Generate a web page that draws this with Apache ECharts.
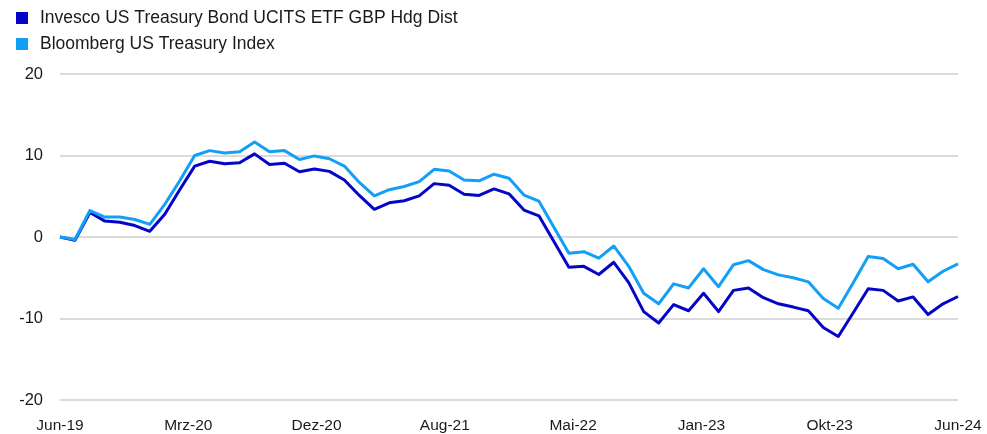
<!DOCTYPE html>
<html>
<head>
<meta charset="utf-8">
<title>Invesco US Treasury Bond UCITS ETF GBP Hdg Dist</title>
<script src="https://cdn.jsdelivr.net/npm/echarts@6/dist/echarts.min.js"></script>
<style>
  html, body { margin: 0; padding: 0; background: #ffffff; }
  #chart { width: 987px; height: 434px; }
</style>
</head>
<body>
<div id="chart"></div>
<script>
// Cumulative performance in %, monthly from Jun-19 to Jun-24
const seriesNames = ['Invesco US Treasury Bond UCITS ETF GBP Hdg Dist', 'Bloomberg US Treasury Index'];

const invescoValues = [
  0.0, -0.4, 3.0, 1.95, 1.8, 1.4, 0.7, 2.8, 5.8, 8.7, 9.3, 9.0, 9.1,
  10.2, 8.9, 9.05, 8.0, 8.35, 8.05, 7.0, 5.1, 3.4, 4.2, 4.45, 5.05,
  6.55, 6.35, 5.25, 5.1, 5.9, 5.3, 3.3, 2.6, -0.55, -3.7, -3.6, -4.6,
  -3.1, -5.6, -9.15, -10.55, -8.3, -9.05, -6.9, -9.15, -6.55, -6.25, -7.45, -8.2,
  -8.6, -9.05, -11.1, -12.2, -9.3, -6.35, -6.55, -7.85, -7.35, -9.5, -8.2, -7.3
];

const bloombergValues = [
  0.0, -0.3, 3.25, 2.45, 2.45, 2.15, 1.55, 4.0, 6.9, 10.0, 10.6, 10.3, 10.45,
  11.65, 10.45, 10.6, 9.5, 9.95, 9.6, 8.7, 6.7, 5.05, 5.8, 6.2, 6.8,
  8.3, 8.1, 7.0, 6.9, 7.7, 7.2, 5.15, 4.4, 1.2, -2.0, -1.8, -2.6,
  -1.1, -3.6, -6.9, -8.2, -5.75, -6.25, -3.9, -6.1, -3.4, -2.9, -4.0, -4.65,
  -5.0, -5.5, -7.55, -8.75, -5.6, -2.4, -2.65, -3.9, -3.35, -5.5, -4.2, -3.3
];

const xTickLabels = ['Jun-19', 'Mrz-20', 'Dez-20', 'Aug-21', 'Mai-22', 'Jan-23', 'Okt-23', 'Jun-24'];
const yTicks = [-20, -10, 0, 10, 20];

const colors = ['#0505c8', '#139ff7'];

const lastIndex = invescoValues.length - 1;
const tickStep = lastIndex / (xTickLabels.length - 1);

function toPoints(values) {
  return values.map((v, i) => [i, v]);
}

const font = '"Liberation Sans", Arial, sans-serif';

const chart = echarts.init(document.getElementById('chart'), null, { renderer: 'canvas' });

chart.setOption({
  animation: false,
  backgroundColor: '#ffffff',
  color: colors,
  legend: {
    orient: 'vertical',
    left: 16,
    top: 9,
    padding: 0,
    itemWidth: 12,
    itemHeight: 12,
    itemGap: 8,
    icon: 'rect',
    data: seriesNames,
    textStyle: { fontFamily: font, fontSize: 17.5, color: '#1a1a1a', padding: [0, 0, 0, 7] }
  },
  grid: { left: 60, right: 29, top: 74, bottom: 32, containLabel: false },
  xAxis: {
    type: 'value',
    min: 0,
    max: lastIndex,
    interval: tickStep,
    axisLine: { show: false },
    axisTick: { show: false },
    splitLine: { show: false },
    axisLabel: {
      margin: 18,
      fontFamily: font,
      fontSize: 15.5,
      color: '#1a1a1a',
      showMinLabel: true,
      showMaxLabel: true,
      formatter: function (v) {
        const k = Math.round(v / tickStep);
        return xTickLabels[k] !== undefined ? xTickLabels[k] : '';
      }
    }
  },
  yAxis: {
    type: 'value',
    min: yTicks[0],
    max: yTicks[yTicks.length - 1],
    interval: 10,
    axisLine: { show: false },
    axisTick: { show: false },
    splitLine: { lineStyle: { color: '#cfcfcf', width: 1.5 } },
    axisLabel: {
      margin: 17,
      fontFamily: font,
      fontSize: 16.5,
      color: '#1a1a1a'
    }
  },
  series: [
    {
      name: seriesNames[0],
      type: 'line',
      data: toPoints(invescoValues),
      showSymbol: false,
      lineStyle: { width: 3, color: colors[0], join: 'round' },
      itemStyle: { color: colors[0] }
    },
    {
      name: seriesNames[1],
      type: 'line',
      data: toPoints(bloombergValues),
      showSymbol: false,
      lineStyle: { width: 3, color: colors[1], join: 'round' },
      itemStyle: { color: colors[1] }
    }
  ]
});
</script>
</body>
</html>
